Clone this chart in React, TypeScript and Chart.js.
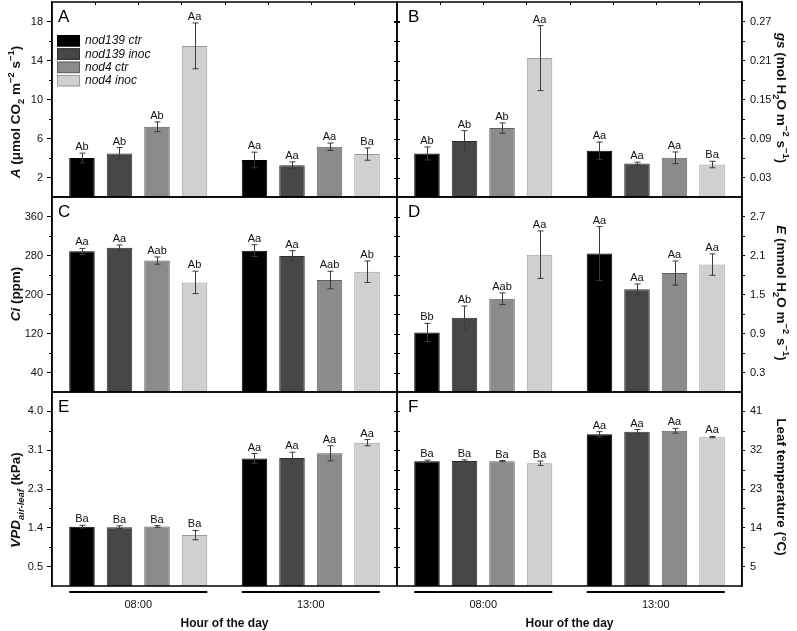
import React, { useEffect, useRef } from 'react';
import { Chart, registerables } from 'chart.js';

Chart.register(...registerables);

const FONT = '"Liberation Sans", Arial, Helvetica, sans-serif';

// ---------- data ----------
const hours = ['08:00', '13:00'];
const seriesNames = ['nod139 ctr', 'nod139 inoc', 'nod4 ctr', 'nod4 inoc'];
const fills = ['#000000', '#474747', '#8b8b8b', '#d0d0d0'];
const strokes = ['#000000', '#2c2c2c', '#606060', '#9c9c9c'];

// A: net CO2 assimilation (series x hour)
const aMean = [[4.0, 3.8], [4.45, 3.25], [7.2, 5.15], [15.5, 4.4]];
const aErr = [[0.5, 0.8], [0.62, 0.35], [0.5, 0.38], [2.35, 0.63]];
const aSig = [['Ab', 'Aa'], ['Ab', 'Aa'], ['Ab', 'Aa'], ['Aa', 'Ba']];
const aTicks = [2, 6, 10, 14, 18];
const aTickLabels = ['2', '6', '10', '14', '18'];

// B: stomatal conductance
const bMean = [[0.067, 0.071], [0.086, 0.0516], [0.106, 0.0603], [0.2137, 0.05]];
const bErr = [[0.010, 0.0135], [0.016, 0.002], [0.008, 0.009], [0.05, 0.005]];
const bSig = [['Ab', 'Aa'], ['Ab', 'Aa'], ['Ab', 'Aa'], ['Aa', 'Ba']];
const bTicks = [0.03, 0.09, 0.15, 0.21, 0.27];
const bTickLabels = ['0.03', '0.09', '0.15', '0.21', '0.27'];

// C: intercellular CO2
const cMean = [[288.5, 290], [296, 279], [269.5, 229.7], [224.8, 246.8]];
const cErr = [[6, 12], [5.5, 11], [7.5, 18], [23, 22]];
const cSig = [['Aa', 'Aa'], ['Aa', 'Aa'], ['Aab', 'Aab'], ['Ab', 'Ab']];
const cTicks = [40, 120, 200, 280, 360];
const cTickLabels = ['40', '120', '200', '280', '360'];

// D: transpiration
const dMean = [[0.916, 2.129], [1.142, 1.579], [1.435, 1.83], [2.113, 1.96]];
const dErr = [[0.14, 0.415], [0.18, 0.083], [0.09, 0.185], [0.365, 0.165]];
const dSig = [['Bb', 'Aa'], ['Ab', 'Aa'], ['Aab', 'Aa'], ['Aa', 'Aa']];
const dTicks = [0.3, 0.9, 1.5, 2.1, 2.7];
const dTickLabels = ['0.3', '0.9', '1.5', '2.1', '2.7'];

// E: VPD air-leaf
const eMean = [[1.40, 2.94], [1.39, 2.95], [1.405, 3.054], [1.21, 3.295]];
const eErr = [[0.03, 0.11], [0.03, 0.13], [0.02, 0.17], [0.105, 0.07]];
const eSig = [['Ba', 'Aa'], ['Ba', 'Aa'], ['Ba', 'Aa'], ['Ba', 'Aa']];
const eTicks = [0.5, 1.375, 2.25, 3.125, 4.0];
const eTickLabels = ['0.5', '1.4', '2.3', '3.1', '4.0'];

// F: leaf temperature
const fMean = [[29.45, 35.7], [29.5, 36.3], [29.45, 36.5], [28.98, 35.03]];
const fErr = [[0.25, 0.6], [0.25, 0.5], [0.15, 0.55], [0.5, 0.15]];
const fSig = [['Ba', 'Aa'], ['Ba', 'Aa'], ['Ba', 'Aa'], ['Ba', 'Aa']];
const fTicks = [5, 14, 23, 32, 41];
const fTickLabels = ['5', '14', '23', '32', '41'];

// ---------- layout ----------
const W = 797;
const H = 631;
const colLeft = [52, 397];
const colRight = [397, 742];
const rowTop = [2, 197, 392];
const rowBottom = [197, 392, 586];

type Run = [string, string];

const panels = [
  { letter: 'A', col: 0, row: 0, mean: aMean, err: aErr, sig: aSig, ticks: aTicks, labels: aTickLabels, legend: true, titleCenter: 112,
    title: [['A', 'bi'], [' (μmol CO', 'b'], ['2', 'sub'], [' m', 'b'], ['−2', 'sup'], [' s', 'b'], ['−1', 'sup'], [')', 'b']] as Run[] },
  { letter: 'B', col: 1, row: 0, mean: bMean, err: bErr, sig: bSig, ticks: bTicks, labels: bTickLabels, legend: false, titleCenter: 98,
    title: [['gs', 'bi'], [' (mol H', 'b'], ['2', 'sub'], ['O m', 'b'], ['−2', 'sup'], [' s', 'b'], ['−1', 'sup'], [')', 'b']] as Run[] },
  { letter: 'C', col: 0, row: 1, mean: cMean, err: cErr, sig: cSig, ticks: cTicks, labels: cTickLabels, legend: false, titleCenter: 294,
    title: [['Ci', 'bi'], [' (ppm)', 'b']] as Run[] },
  { letter: 'D', col: 1, row: 1, mean: dMean, err: dErr, sig: dSig, ticks: dTicks, labels: dTickLabels, legend: false, titleCenter: 293,
    title: [['E', 'bi'], [' (mmol H', 'b'], ['2', 'sub'], ['O m', 'b'], ['−2', 'sup'], [' s', 'b'], ['−1', 'sup'], [')', 'b']] as Run[] },
  { letter: 'E', col: 0, row: 2, mean: eMean, err: eErr, sig: eSig, ticks: eTicks, labels: eTickLabels, legend: false, titleCenter: 500,
    title: [['VPD', 'bi'], ['air-leaf', 'subi'], [' (kPa)', 'b']] as Run[] },
  { letter: 'F', col: 1, row: 2, mean: fMean, err: fErr, sig: fSig, ticks: fTicks, labels: fTickLabels, legend: false, titleCenter: 487,
    title: [['Leaf temperature (°C)', 'b']] as Run[] },
];

type PanelCfg = typeof panels[number];

function drawRich(ctx: CanvasRenderingContext2D, runs: Run[], cx: number, cy: number, angle: number, size: number) {
  const fontFor = (st: string) => {
    const small = st.startsWith('sub') || st.startsWith('sup');
    const s = small ? size * 0.7 : size;
    const italic = st.includes('i');
    return `${italic ? 'italic ' : ''}bold ${s}px ${FONT}`;
  };
  let total = 0;
  runs.forEach(([t, st]) => { ctx.font = fontFor(st); total += ctx.measureText(t).width; });
  ctx.save();
  ctx.translate(cx, cy);
  ctx.rotate(angle);
  ctx.textAlign = 'left';
  ctx.textBaseline = 'alphabetic';
  ctx.fillStyle = '#111';
  let x = -total / 2;
  runs.forEach(([t, st]) => {
    ctx.font = fontFor(st);
    const dy = st.startsWith('sub') ? size * 0.28 : st.startsWith('sup') ? -size * 0.42 : 0;
    ctx.fillText(t, x, dy);
    x += ctx.measureText(t).width;
  });
  ctx.restore();
}

function makeDecor(cfg: PanelCfg) {
  return {
    id: 'decor' + cfg.letter,
    afterDraw(chart: any) {
      const { ctx, chartArea: ca } = chart;
      const y = chart.scales.y;
      const isLeft = cfg.col === 0;
      ctx.save();

      // error bars and significance letters
      cfg.mean.forEach((series: number[], i: number) => {
        const meta = chart.getDatasetMeta(i);
        series.forEach((v: number, j: number) => {
          const bar = meta.data[j];
          const e = cfg.err[i][j];
          const top = y.getPixelForValue(v + e);
          const bot = y.getPixelForValue(v - e);
          const bx = Math.round(bar.x) + 0.5;
          ctx.strokeStyle = '#3a3a3a';
          ctx.lineWidth = 1;
          ctx.beginPath();
          ctx.moveTo(bx, top); ctx.lineTo(bx, bot);
          ctx.moveTo(bx - 3, top); ctx.lineTo(bx + 3, top);
          ctx.moveTo(bx - 3, bot); ctx.lineTo(bx + 3, bot);
          ctx.stroke();
          ctx.fillStyle = '#111';
          ctx.font = `11px ${FONT}`;
          ctx.textAlign = 'center';
          ctx.textBaseline = 'alphabetic';
          ctx.fillText(cfg.sig[i][j], bar.x, top - 3);
        });
      });

      // frame
      ctx.strokeStyle = '#000';
      ctx.lineWidth = 1.5;
      ctx.strokeRect(ca.left, ca.top, ca.right - ca.left, ca.bottom - ca.top);

      // minor ticks + mirror ticks
      ctx.lineWidth = 1;
      const t = cfg.ticks;
      const mirrorX = isLeft ? ca.right : ca.left;
      ctx.beginPath();
      for (let k = 0; k < t.length; k++) {
        const py = Math.round(y.getPixelForValue(t[k])) + 0.5;
        ctx.moveTo(mirrorX - 3, py); ctx.lineTo(mirrorX + 3, py);
        if (k < t.length - 1) {
          const pm = Math.round(y.getPixelForValue((t[k] + t[k + 1]) / 2)) + 0.5;
          if (isLeft) { ctx.moveTo(ca.left - 3, pm); ctx.lineTo(ca.left, pm); }
          else { ctx.moveTo(ca.right, pm); ctx.lineTo(ca.right + 3, pm); }
          ctx.moveTo(mirrorX - 3, pm); ctx.lineTo(mirrorX + 3, pm);
        }
      }
      if (cfg.row === 0) {
        const w = ca.right - ca.left;
        for (let k = 1; k < 8; k++) {
          const px = Math.round(ca.left + (k * w) / 8) + 0.5;
          ctx.moveTo(px, ca.top); ctx.lineTo(px, ca.top + 3);
        }
      }
      ctx.stroke();

      // group underlines (bottom row)
      if (cfg.row === 2) {
        const m0 = chart.getDatasetMeta(0);
        const m3 = chart.getDatasetMeta(3);
        ctx.lineWidth = 2;
        ctx.strokeStyle = '#000';
        ctx.beginPath();
        for (let j = 0; j < hours.length; j++) {
          const b0 = m0.data[j];
          const b3 = m3.data[j];
          ctx.moveTo(b0.x - b0.width / 2, ca.bottom + 6);
          ctx.lineTo(b3.x + b3.width / 2, ca.bottom + 6);
        }
        ctx.stroke();
      }

      // panel letter
      ctx.fillStyle = '#000';
      ctx.font = `17px ${FONT}`;
      ctx.textAlign = 'left';
      ctx.textBaseline = 'alphabetic';
      ctx.fillText(cfg.letter, ca.left + (isLeft ? 6 : 11), ca.top + 20);

      // legend
      if (cfg.legend) {
        chart.data.datasets.forEach((ds: any, i: number) => {
          const by = 35 + i * 13.3;
          ctx.fillStyle = ds.backgroundColor;
          ctx.fillRect(57, by, 23, 11.5);
          ctx.strokeStyle = ds.borderColor;
          ctx.lineWidth = 1;
          ctx.strokeRect(57.5, by + 0.5, 22, 10.5);
          ctx.fillStyle = '#111';
          ctx.font = `italic 12px ${FONT}`;
          ctx.textBaseline = 'middle';
          ctx.fillText(ds.label, 85, by + 6);
        });
      }

      // axis title
      if (isLeft) drawRich(ctx, cfg.title, 20, cfg.titleCenter, -Math.PI / 2, 13.5);
      else drawRich(ctx, cfg.title, 777, cfg.titleCenter, Math.PI / 2, 13.5);

      ctx.restore();
    },
  };
}

function Panel({ cfg }: { cfg: PanelCfg }) {
  const ref = useRef<HTMLCanvasElement | null>(null);
  useEffect(() => {
    if (!ref.current) return;
    const isLeft = cfg.col === 0;
    const isBottom = cfg.row === 2;
    const t = cfg.ticks;
    const half = (t[1] - t[0]) / 2;
    const chart = new Chart(ref.current, {
      type: 'bar',
      data: {
        labels: hours,
        datasets: seriesNames.map((name, i) => ({
          label: name,
          data: cfg.mean[i],
          backgroundColor: fills[i],
          borderColor: strokes[i],
          borderWidth: 1,
          categoryPercentage: 0.87,
          barPercentage: 0.68,
        })),
      },
      options: {
        responsive: false,
        animation: false,
        devicePixelRatio: 1,
        events: [],
        layout: {
          padding: {
            left: isLeft ? 0 : colLeft[1],
            right: isLeft ? W - colRight[0] : 0,
            top: rowTop[cfg.row],
            bottom: isBottom ? 0 : H - rowBottom[cfg.row],
          },
        },
        plugins: { legend: { display: false }, tooltip: { enabled: false } },
        scales: {
          x: {
            display: isBottom,
            grid: { display: false, drawTicks: false },
            border: { display: false },
            ticks: { font: { family: FONT, size: 11 }, color: '#111', padding: 12 },
            title: {
              display: isBottom,
              text: 'Hour of the day',
              font: { family: FONT, size: 12, weight: 'bold', lineHeight: 1.2 },
              color: '#111',
              padding: { top: 0, bottom: 0 },
            },
            afterFit: (s: any) => {
              s.height = isBottom ? H - rowBottom[2] : 0;
              s.paddingLeft = 0;
              s.paddingRight = 0;
            },
          },
          y: {
            position: isLeft ? 'left' : 'right',
            min: t[0] - half,
            max: t[t.length - 1] + half,
            afterBuildTicks: (s: any) => { s.ticks = t.map((v) => ({ value: v })); },
            ticks: {
              font: { family: FONT, size: 11 },
              color: '#111',
              padding: isLeft ? 4 : 5,
              callback: (_v: any, idx: number) => cfg.labels[idx],
            },
            grid: { drawOnChartArea: false, tickLength: isLeft ? 5 : 3, tickColor: '#000', tickWidth: 1 },
            border: { display: true, color: '#000', width: 1.5 },
            afterFit: (s: any) => { s.width = isLeft ? colLeft[0] : W - colRight[1]; s.paddingTop = 0; s.paddingBottom = 0; },
          },
        },
      } as any,
      plugins: [makeDecor(cfg)],
    });
    return () => chart.destroy();
  }, [cfg]);
  return (
    <canvas
      ref={ref}
      width={W}
      height={H}
      style={{ position: 'absolute', left: 0, top: 0, width: W, height: H, pointerEvents: 'none' }}
    />
  );
}

export default function App() {
  return (
    <div style={{ position: 'fixed', left: 0, top: 0, width: W, height: H, background: '#fff', overflow: 'hidden' }}>
      {panels.map((p) => (
        <Panel key={p.letter} cfg={p} />
      ))}
    </div>
  );
}
